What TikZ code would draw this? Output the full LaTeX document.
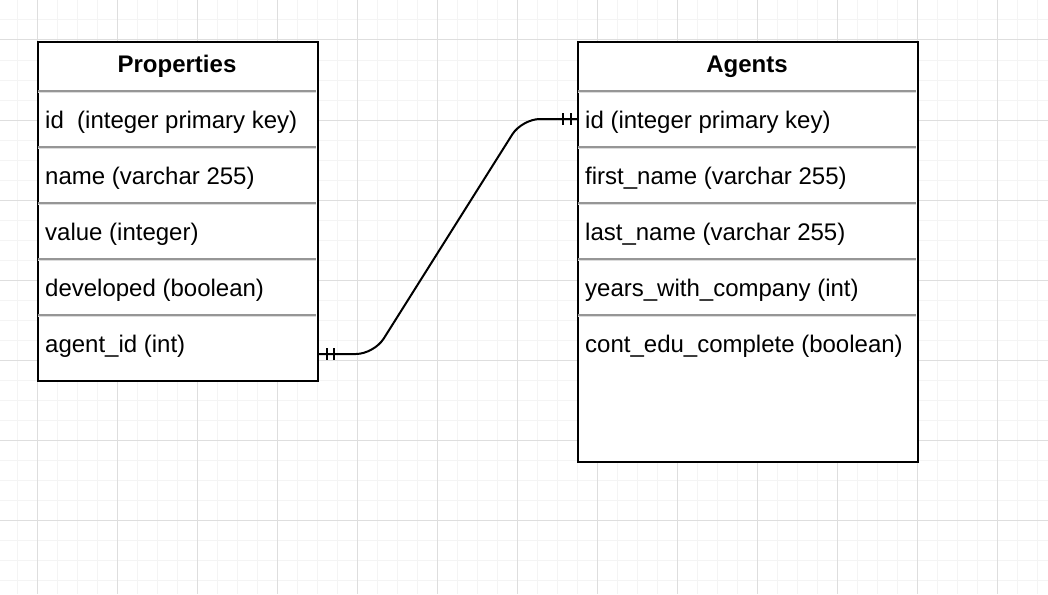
\documentclass[tikz,border=0pt]{standalone}
\usepackage{fontspec}
\setmainfont{Liberation Sans}
\usetikzlibrary{calc}
\definecolor{gminor}{RGB}{244,244,244}
\definecolor{gmajor}{RGB}{222,222,222}
\definecolor{sepc}{RGB}{150,150,150}
\definecolor{sepl}{RGB}{220,220,220}
\tikzset{
  minorline/.style={gminor, line width=1pt},
  majorline/.style={gmajor, line width=1pt},
  tbl/.style={draw=black, fill=white, line width=2pt, rectangle, inner sep=0pt, anchor=north west},
  sepline/.style={sepc, line width=1.6pt},
  sepshade/.style={sepl, line width=1pt},
  fld/.style={font=\fontsize{24}{28}\selectfont, inner sep=0pt, anchor=base west},
  ttl/.style={font=\fontsize{24}{28}\selectfont\bfseries, inner sep=0pt, anchor=base},
  rel/.style={draw=black, line width=2pt},
  tick/.style={draw=black, line width=1.6pt}
}
\begin{document}
\begin{tikzpicture}[x=1pt, y=-1pt]
\useasboundingbox[fill=white] (0,0) rectangle (1048,594);
% grid
\foreach \x in {-3,17,...,1050} \draw[minorline] (\x,0) -- (\x,594);
\foreach \y in {0,20,...,600} \draw[minorline] (0,\y) -- (1048,\y);
\foreach \x in {37,117,...,1050} \draw[majorline] (\x,0) -- (\x,594);
\foreach \y in {40,120,...,600} \draw[majorline] (0,\y) -- (1048,\y);
% Properties table
\node[tbl, minimum width=280pt, minimum height=339pt] (prop) at (37,41) {};
\foreach \y in {91,147,203,259,315} {
  \draw[sepshade] (38,\y+1.8) -- (316,\y+1.8);
  \draw[sepline] (38,\y) -- (316,\y);
}
\node[ttl] (ptitle) at (177,72) {Properties};
\node[fld] (p1) at (45,128) {id\ \ (integer primary key)};
\node[fld] (p2) at (45,184) {name (varchar 255)};
\node[fld] (p3) at (45,240) {value (integer)};
\node[fld] (p4) at (45,296) {developed (boolean)};
\node[fld] (p5) at (45,352) {agent\_id (int)};
% Agents table
\node[tbl, minimum width=340pt, minimum height=420pt] (agent) at (577,41) {};
\foreach \y in {91,147,203,259,315} {
  \draw[sepshade] (578,\y+1.8) -- (916,\y+1.8);
  \draw[sepline] (578,\y) -- (916,\y);
}
\node[ttl] (atitle) at (747,72) {Agents};
\node[fld] (a1) at (585,128) {id (integer primary key)};
\node[fld] (a2) at (585,184) {first\_name (varchar 255)};
\node[fld] (a3) at (585,240) {last\_name (varchar 255)};
\node[fld] (a4) at (585,296) {years\_with\_company (int)};
\node[fld] (a5) at (585,352) {cont\_edu\_complete (boolean)};
% relation
\coordinate (ps) at (prop.east |- 0,354);
\coordinate (as) at (agent.west |- 0,119);
\draw[rel, rounded corners=18pt] (ps) -- ++(55,0) -- ($(as)+(-55,0)$) -- (as);
\draw[tick] ($(ps)+(8,-6)$) -- ++(0,12);
\draw[tick] ($(ps)+(15,-6)$) -- ++(0,12);
\draw[tick] ($(as)+(-14,-6)$) -- ++(0,12);
\draw[tick] ($(as)+(-6,-6)$) -- ++(0,12);
\end{tikzpicture}
\end{document}
